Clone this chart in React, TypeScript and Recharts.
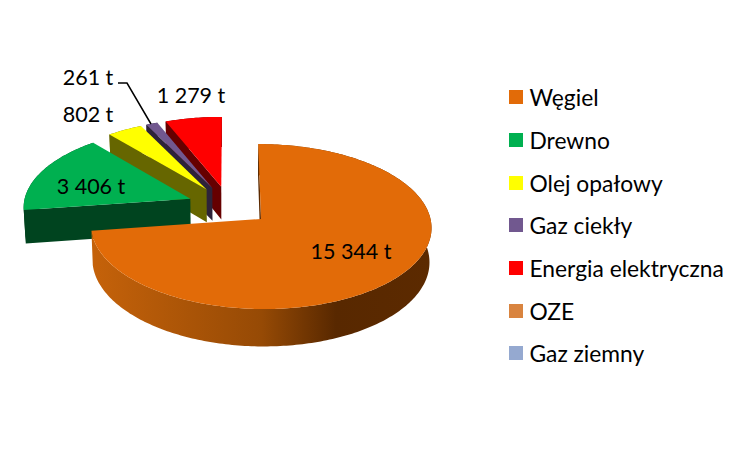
import { Legend, Pie, PieChart } from "recharts";

const categories = ["Węgiel", "Drewno", "Olej opałowy", "Gaz ciekły", "Energia elektryczna", "OZE", "Gaz ziemny"];
const tonnes = [15344, 3406, 802, 261, 1279, 0, 0];
const topColors = ["#E26B08", "#00B050", "#FFFF00", "#71588F", "#FF0000", "#D9843F", "#95A9D0"];
const wallColors = ["#8A4405", "#00441F", "#666600", "#2D2339", "#660000", "#7F4A20", "#4A5A80"];
// label centres in page pixels, same order as categories
const labelSpots = [[351, 251], [91, 186], [88, 114], [88, 77], [191, 95]];

// reversed and run counter-clockwise so Węgiel is painted last, on top of the others
const rows = categories
  .map((name, i) => ({ name, value: tonnes[i], fill: topColors[i], wall: wallColors[i], idx: i }))
  .reverse();

const CX = 229;
const CY = 205.8;
const RX = 167;
const RY = 79.4;
const PERSP = 0.09;
const EXPLODE = 0.25;
const DEPTH = 33.5;
const rad = Math.PI / 180;

function project(theta: number, r: number, mid: number, low: boolean) {
  const a = EXPLODE * Math.sin(mid * rad) + r * Math.sin(theta * rad);
  const b = -EXPLODE * Math.cos(mid * rad) - r * Math.cos(theta * rad);
  const w = 1 - PERSP * b;
  const x = CX + (RX * a) / w;
  const y = CY + (RY * b) / w;
  if (!low) return [x, y];
  return [CX + (x - CX) * 0.99, y + DEPTH / w];
}

const toPath = (pts: number[][]) =>
  pts.map((p, i) => `${i ? "L" : "M"}${p[0].toFixed(2)},${p[1].toFixed(2)}`).join(" ") + " Z";

function Slice3D(props: any) {
  const { startAngle, endAngle, fill, payload } = props;
  if (!endAngle || startAngle === endAngle) return null;
  const t1 = 90 - Math.max(startAngle, endAngle);
  const t2 = 90 - Math.min(startAngle, endAngle);
  const mid = (t1 + t2) / 2;
  const wall = payload?.wall ?? props.wall;
  const isCoal = (payload?.idx ?? props.idx) === 0;

  const upper: number[][] = [];
  const lower: number[][] = [];
  const steps = Math.max(2, Math.ceil(t2 - t1));
  for (let i = 0; i <= steps; i++) {
    const t = t1 + ((t2 - t1) * i) / steps;
    upper.push(project(t, 1, mid, false));
    lower.push(project(t, 1, mid, true));
  }
  const apex = project(0, 0, mid, false);
  const apexLow = project(0, 0, mid, true);

  return (
    <g>
      {isCoal && (
        <defs>
          <linearGradient id="coalWall" gradientUnits="userSpaceOnUse" x1="92" y1="0" x2="431" y2="0">
            <stop offset="0" stopColor="#C5620A" />
            <stop offset="0.5" stopColor="#964A05" />
            <stop offset="0.72" stopColor="#582800" />
            <stop offset="1" stopColor="#5C2A00" />
          </linearGradient>
        </defs>
      )}
      <path d={toPath([...upper, ...[...lower].reverse()])} fill={isCoal ? "url(#coalWall)" : wall} />
      <path d={toPath([apex, upper[0], lower[0], apexLow])} fill={isCoal ? "#5C2A00" : wall} />
      <path d={toPath([apex, ...upper])} fill={fill} />
    </g>
  );
}

const formatTonnes = (v: number) => `${String(v).replace(/\B(?=(\d{3})+$)/g, " ")} t`;

function SliceLabel(props: any) {
  const idx = props.payload?.idx ?? props.idx;
  if (!tonnes[idx]) return null;
  const [x, y] = labelSpots[idx];
  return (
    <g>
      {idx === 3 && <polyline points="118,83 127,83 151,124" fill="none" stroke="#000" strokeWidth={1.5} />}
      <text x={x} y={y} textAnchor="middle" dominantBaseline="central" fontFamily="Lato" fontSize={21.5} fill="#000">
        {formatTonnes(tonnes[idx])}
      </text>
    </g>
  );
}

function LegendList() {
  return (
    <div style={{ fontFamily: "Lato", fontSize: 22.8, color: "#000" }}>
      {categories.map((name, i) => (
        <div key={name} style={{ display: "flex", alignItems: "center", height: 42.7, whiteSpace: "nowrap" }}>
          <span style={{ width: 14, height: 14, background: topColors[i], marginRight: 6.5 }} />
          {name}
        </div>
      ))}
    </div>
  );
}

export default function App() {
  return (
    <div style={{ position: "absolute", left: 0, top: 0, width: 747, height: 452, background: "#fff" }}>
      <PieChart width={747} height={452} margin={{ top: 0, right: 0, bottom: 0, left: 0 }}>
        <Pie
          data={rows}
          dataKey="value"
          nameKey="name"
          cx={CX}
          cy={CY}
          outerRadius={RX}
          startAngle={90}
          endAngle={450}
          stroke="none"
          shape={Slice3D}
          label={SliceLabel}
          labelLine={false}
          isAnimationActive={false}
        />
        <Legend
          layout="vertical"
          align="right"
          verticalAlign="top"
          content={<LegendList />}
          wrapperStyle={{ left: 509, top: 76, width: 238, right: "auto" }}
        />
      </PieChart>
    </div>
  );
}
